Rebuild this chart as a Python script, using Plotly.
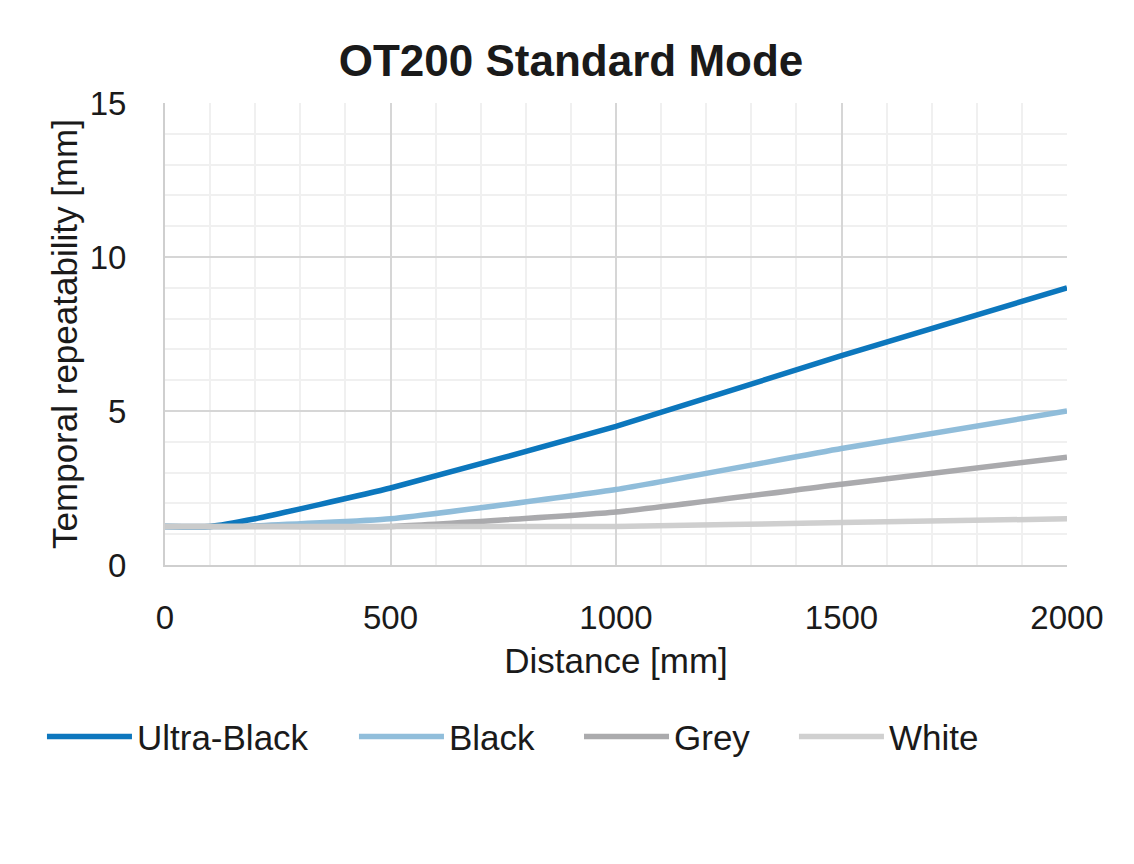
import plotly.graph_objects as go

# distance [mm] and temporal repeatability [mm] per target colour
distance = [0, 100, 200, 500, 1000, 1500, 2000]
ultra_black = [1.25, 1.25, 1.5, 2.5, 4.5, 6.8, 9.0]
black = [1.25, 1.25, 1.27, 1.5, 2.45, 3.78, 5.0]
grey = [1.25, 1.25, 1.25, 1.25, 1.72, 2.62, 3.5]
white = [1.25, 1.25, 1.25, 1.25, 1.25, 1.38, 1.5]

series = [
	("Ultra-Black", ultra_black, "#0070BA"),
	("Black", black, "#8BBAD9"),
	("Grey", grey, "#A6A6A9"),
	("White", white, "#CDCDCD"),
]

font = "Liberation Sans, Arial, sans-serif"

# one legend per series so the entries can sit where they are in the original
legend_names = ["legend", "legend2", "legend3", "legend4"]
legend_x = [-0.1364, 0.2095, 0.459, 0.6973]

fig = go.Figure()
for (name, vals, color), lg in zip(series, legend_names):
	fig.add_trace(go.Scatter(
		x=distance,
		y=vals,
		name=name,
		mode="lines",
		line=dict(color=color, width=5.5, shape="spline", smoothing=0.4),
		opacity=0.95,
		legend=lg
	))

# the page body has an 8px margin, so the figure is 8px smaller than the window
fig.update_layout(
	width=1126,
	height=856,
	paper_bgcolor="white",
	plot_bgcolor="white",
	margin=dict(l=157, r=67, t=95, b=299),
	title=dict(
		text="<b>OT200 Standard Mode</b>",
		x=0.5, xanchor="center",
		y=0.939, yanchor="middle",
		font=dict(family=font, size=44, color="#1a1a1a")
	),
	font=dict(family=font, size=29, color="#1a1a1a"),
	showlegend=True,
	xaxis=dict(
		range=[0, 2000],
		dtick=500,
		showgrid=True,
		gridcolor="#D6D6D6",
		gridwidth=2,
		minor=dict(dtick=100, showgrid=True, gridcolor="#F0F0F0", gridwidth=2),
		zeroline=False,
		showline=True,
		linecolor="#CFCFCF",
		linewidth=2,
		ticks="",
		ticklabelstandoff=22,
		title=dict(text="Distance [mm]", standoff=14, font=dict(size=35)),
		tickfont=dict(size=33)
	),
	yaxis=dict(
		range=[0, 15],
		dtick=5,
		showgrid=True,
		gridcolor="#D6D6D6",
		gridwidth=2,
		minor=dict(dtick=1, showgrid=True, gridcolor="#F0F0F0", gridwidth=2),
		zeroline=False,
		showline=True,
		linecolor="#CFCFCF",
		linewidth=2,
		ticks="",
		ticklabelstandoff=30,
		title=dict(text="Temporal repeatability [mm]", standoff=1, font=dict(size=35)),
		tickfont=dict(size=33)
	)
)

for lg, lx in zip(legend_names, legend_x):
	fig.update_layout({lg: dict(
		orientation="h",
		x=lx, xanchor="left",
		y=-0.372, yanchor="middle",
		font=dict(size=35),
		itemwidth=85,
		bgcolor="rgba(0,0,0,0)"
	)})

fig.write_html("out.html")
